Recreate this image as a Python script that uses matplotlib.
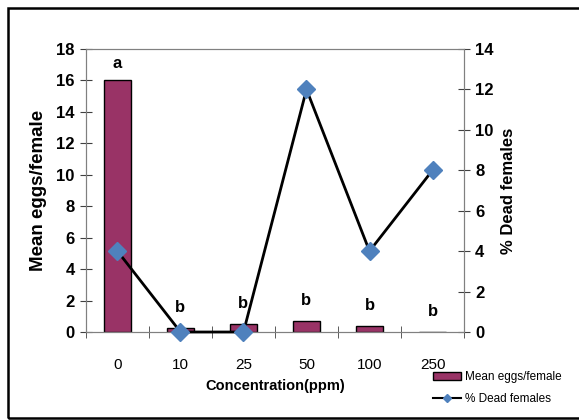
import matplotlib.pyplot as plt
from matplotlib.patches import Rectangle
from matplotlib.lines import Line2D

conc = ["0", "10", "25", "50", "100", "250"]
mean_eggs = [16, 0.28, 0.53, 0.7, 0.36, 0]
dead_pct = [4, 0, 0, 12, 4, 8]
letters = ["a", "b", "b", "b", "b", "b"]

bar_col = "#993366"
mk_col = "#4f81bd"
plt.rcParams["font.family"] = ["Liberation Sans", "DejaVu Sans"]

fig = plt.figure(figsize=(5.79, 4.2), dpi=100)
ax = fig.add_axes([0.1485, 0.2095, 0.6529, 0.6738])
x = list(range(len(conc)))

ax.bar(x, mean_eggs, width=0.42, color=bar_col, edgecolor="black", linewidth=1, zorder=2)
for i, (v, t) in enumerate(zip(mean_eggs, letters)):
    off = 1.05 if t == "a" else 1.3
    ax.text(i, v + off, t, ha="center", va="center", fontsize=12, fontweight="bold")

ax.set_xlim(-0.5, 5.5)
ax.set_ylim(0, 18)
ax.set_yticks(range(0, 19, 2))
ax.set_xticks(x)
ax.set_xticklabels(conc, fontsize=11)
ax.set_xticks([i - 0.5 for i in range(len(conc) + 1)], minor=True)
ax.tick_params(axis="x", which="major", length=0, pad=19)
ax.tick_params(axis="x", which="minor", length=9, direction="inout", color="#404040")
ax.tick_params(axis="y", length=9, direction="inout", color="#404040")
for lab in ax.get_yticklabels():
    lab.set_fontweight("bold")
    lab.set_fontsize(12)
for s in ax.spines.values():
    s.set_color("#808080")
ax.set_ylabel("Mean eggs/female", fontsize=13.5, fontweight="bold", labelpad=7)
ax.set_xlabel("Concentration(ppm)", fontsize=10.5, fontweight="bold", labelpad=5)

ax2 = ax.twinx()
ax2.plot(x, dead_pct, color="black", linewidth=2, marker="D", markersize=9,
         markerfacecolor=mk_col, markeredgecolor=mk_col, clip_on=False, zorder=3)
ax2.set_ylim(0, 14)
ax2.set_yticks(range(0, 15, 2))
ax2.tick_params(axis="y", length=9, direction="inout", color="#404040")
for lab in ax2.get_yticklabels():
    lab.set_fontweight("bold")
    lab.set_fontsize(12)
for s in ax2.spines.values():
    s.set_color("#808080")
ax2.set_ylabel("% Dead females", fontsize=12, fontweight="bold", labelpad=5)

handles = [Rectangle((0, 0), 1, 1, facecolor=bar_col, edgecolor="black"),
           Line2D([], [], color="black", marker="D", markersize=4,
                  markerfacecolor=mk_col, markeredgecolor=mk_col)]
fig.legend(handles, ["Mean eggs/female", "% Dead females"], loc="lower right",
           bbox_to_anchor=(0.97, 0.035), borderaxespad=0, borderpad=0, frameon=False,
           prop={"size": 8.5}, handlelength=2.4, handleheight=0.6, handletextpad=0.3,
           labelspacing=0.85)

fig.patches.append(Rectangle((8 / 579, 2 / 420), 1.1, 410 / 420, transform=fig.transFigure,
                             fill=False, edgecolor="black", linewidth=1.8))

fig.savefig("out.png", dpi=100)
